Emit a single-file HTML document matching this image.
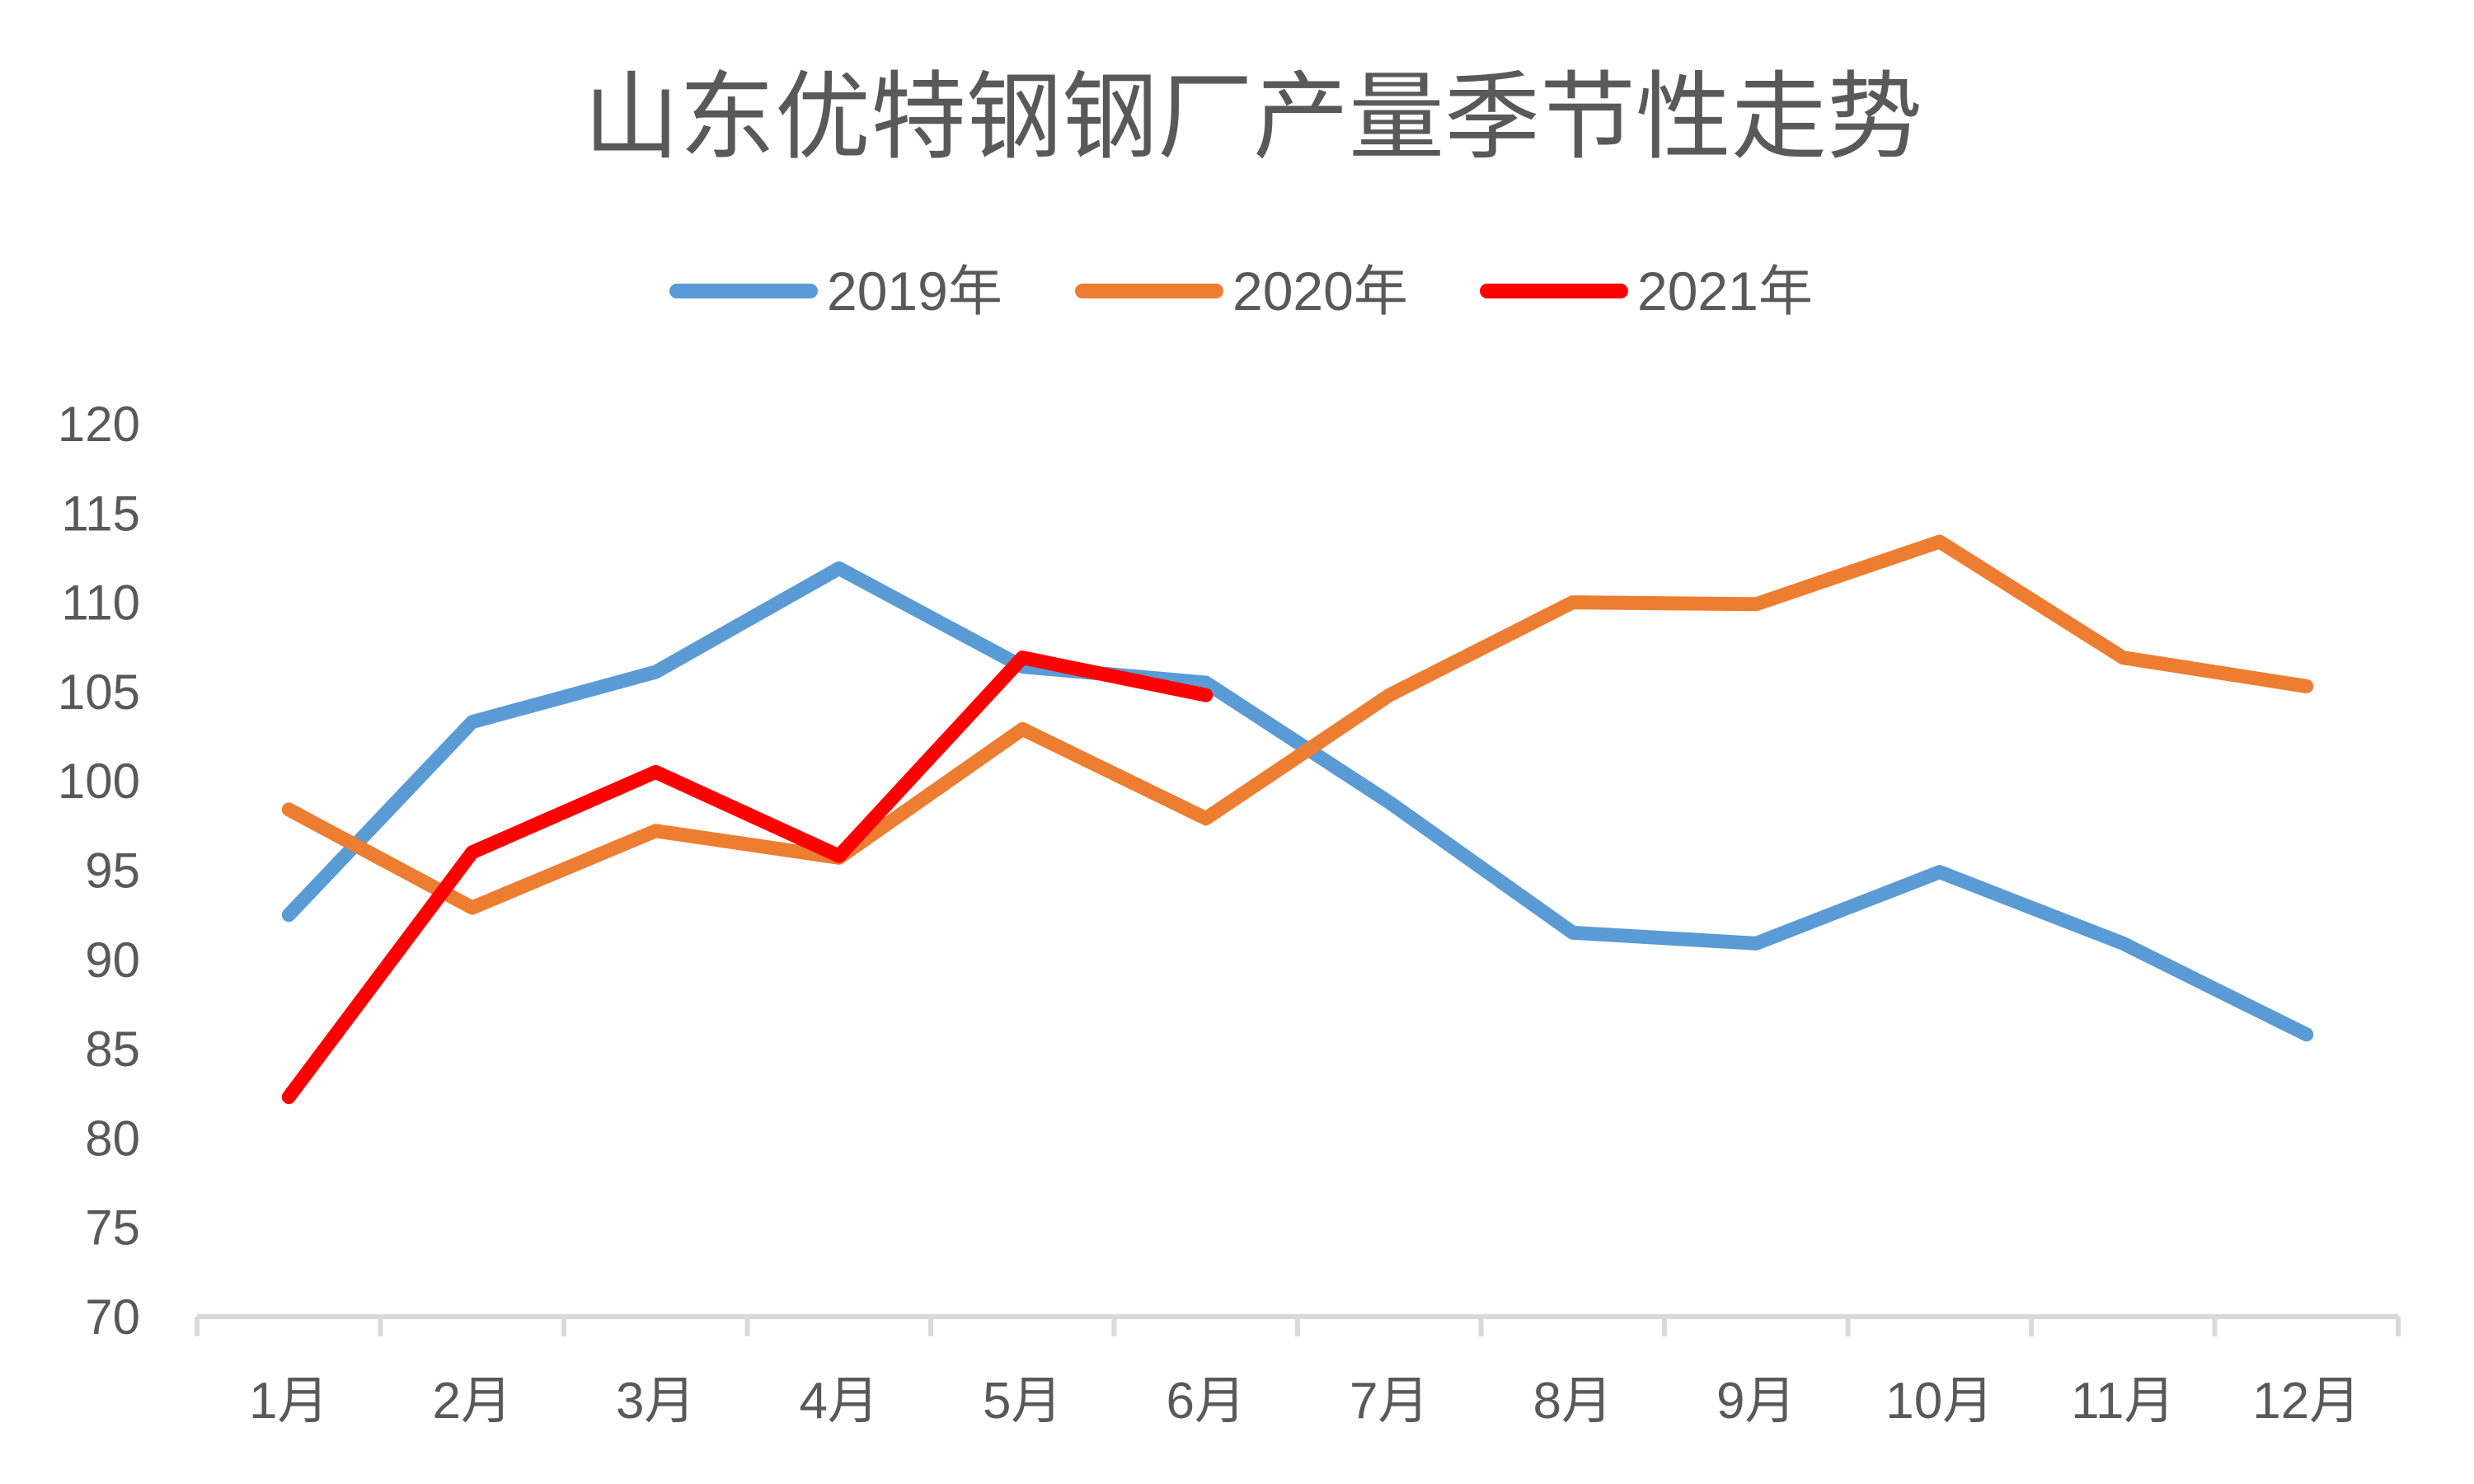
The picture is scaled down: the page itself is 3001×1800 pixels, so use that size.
<!DOCTYPE html>
<html><head><meta charset="utf-8"><style>
html,body{margin:0;padding:0;background:#fff;}
svg{display:block;}
text{font-family:"Liberation Sans","Noto Sans CJK SC",sans-serif;fill:#595959;}
</style></head><body>
<svg id="chart" width="3001" height="1800" viewBox="0 0 3001 1800">
<rect width="3001" height="1800" fill="#fff"/>
<text x="1520" y="182" font-size="116" text-anchor="middle">山东优特钢钢厂产量季节性走势</text>
<g id="legend"></g>
<g id="yaxis"></g>
<g id="xaxis"></g>
<g id="series"></g>
</svg>
<script>
const categories=["1月","2月","3月","4月","5月","6月","7月","8月","9月","10月","11月","12月"];
const yTicks=[70,75,80,85,90,95,100,105,110,115,120];
const seriesNames=["2019年","2020年","2021年"];
const v2019=[92.5,103.3,106.1,111.9,106.4,105.5,98.8,91.5,90.9,94.9,90.9,85.8];
const v2020=[98.4,92.9,97.2,95.7,102.9,97.9,104.8,110.0,109.9,113.4,106.9,105.3];
const v2021=[82.3,96.0,100.5,95.8,106.9,104.8];
const colors=["#5B9BD5","#ED7D31","#FF0000"];
const NS="http://www.w3.org/2000/svg";
const x0=239,x1=2909,yBase=1597,yTop=514,yMin=70,yMax=120;
const step=(x1-x0)/categories.length;
function xPos(i){return x0+step*(i+0.5);}
function yPos(v){return yBase-(v-yMin)/(yMax-yMin)*(yBase-yTop);}
function mk(tag,attrs,parent){const e=document.createElementNS(NS,tag);for(const k in attrs)e.setAttribute(k,attrs[k]);parent.appendChild(e);return e;}
const ya=document.getElementById('yaxis'),xa=document.getElementById('xaxis'),sg=document.getElementById('series'),lg=document.getElementById('legend');
yTicks.forEach(t=>{const e=mk('text',{x:170,y:yPos(t)+21,'font-size':60,'text-anchor':'end'},ya);e.textContent=t;

});
const ax=mk('line',{x1:x0,y1:yBase,x2:x1,y2:yBase,stroke:'#d9d9d9','stroke-width':6},xa);


for(let i=0;i<=categories.length;i++){const tk=mk('line',{x1:x0+step*i,y1:yBase,x2:x0+step*i,y2:yBase+24,stroke:'#d9d9d9','stroke-width':6},xa);

}
categories.forEach((c,i)=>{const e=mk('text',{x:xPos(i),y:1720,'font-size':62,'text-anchor':'middle'},xa);e.textContent=c;

});
[v2019,v2020,v2021].forEach((vals,s)=>{const pts=vals.map((v,i)=>xPos(i).toFixed(1)+','+yPos(v).toFixed(1)).join(' ');
const p=mk('polyline',{points:pts,fill:'none',stroke:colors[s],'stroke-width':17,'stroke-linejoin':'round','stroke-linecap':'round'},sg);

});
const lx=[812,1304,1795];
seriesNames.forEach((n,s)=>{const l=mk('line',{x1:lx[s]+9,y1:353,x2:lx[s]+171,y2:353,stroke:colors[s],'stroke-width':18,'stroke-linecap':'round'},lg);


const t=mk('text',{x:lx[s]+191,y:376,'font-size':66},lg);t.textContent=n;

});
</script>
</body></html>
